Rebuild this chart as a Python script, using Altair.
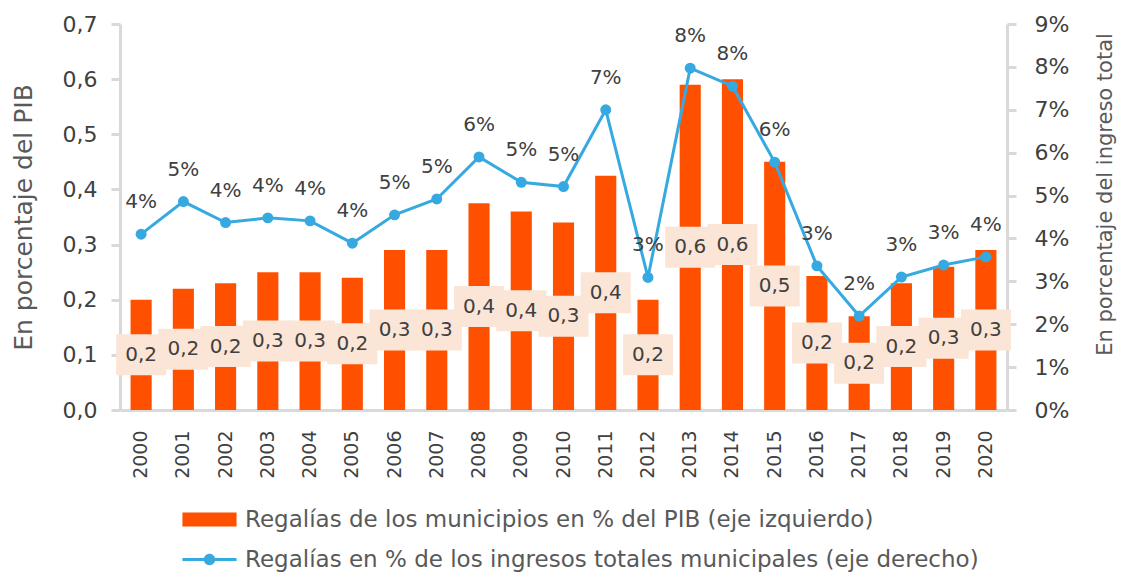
import altair as alt
import pandas as pd

years = ["2000", "2001", "2002", "2003", "2004", "2005", "2006", "2007", "2008", "2009",
         "2010", "2011", "2012", "2013", "2014", "2015", "2016", "2017", "2018", "2019", "2020"]
regalias_pib = [0.20, 0.22, 0.23, 0.25, 0.25, 0.24, 0.29, 0.29, 0.375, 0.36,
                0.34, 0.425, 0.20, 0.59, 0.60, 0.45, 0.243, 0.17, 0.23, 0.26, 0.29]
regalias_ingresos = [4.10, 4.86, 4.37, 4.48, 4.41, 3.89, 4.55, 4.92, 5.90, 5.31,
                     5.21, 7.00, 3.09, 7.97, 7.55, 5.78, 3.36, 2.19, 3.10, 3.38, 3.57]
series_names = ["Regalías de los municipios en % del PIB (eje izquierdo)",
                "Regalías en % de los ingresos totales municipales (eje derecho)"]
left_ticks = [0.0, 0.1, 0.2, 0.3, 0.4, 0.5, 0.6, 0.7]
right_ticks = [0, 1, 2, 3, 4, 5, 6, 7, 8, 9]

ORANGE = "#FF5000"
BLUE = "#36A9E1"
BOX = "#FBE5D6"
TXT = "#404040"
GREY = "#595959"
AXIS = "#D9D9D9"
FONT = "DejaVu Sans"

df = pd.DataFrame({"year": years, "pib": regalias_pib, "ing": regalias_ingresos})

base = alt.Chart(df)

x_axis = alt.Axis(labelAngle=270, labelFontSize=19, labelColor=TXT, ticks=False,
                  domainColor=AXIS, domainWidth=3, labelPadding=20, labelFont=FONT,
                  title=None)
x_enc = alt.X("year:N", title=None,
              scale=alt.Scale(paddingInner=0.5, paddingOuter=0.25), axis=x_axis)

left_axis = alt.Axis(title="En porcentaje del PIB", values=left_ticks,
                     labelExpr="replace(format(datum.value, '.1f'), '.', ',')",
                     labelFontSize=22, labelColor=TXT, labelPadding=14,
                     tickSize=9, tickWidth=3, tickColor=AXIS,
                     domainColor=AXIS, domainWidth=3, grid=False,
                     titleFontSize=25, titleColor=GREY, titleFontWeight="normal",
                     titlePadding=26, labelFont=FONT, titleFont=FONT)
left_scale = alt.Scale(domain=[0, 0.7], nice=False)

bars = base.mark_bar(color=ORANGE).encode(
    x=x_enc, y=alt.Y("pib:Q", scale=left_scale, axis=left_axis))

lab_base = base.transform_calculate(
    mid="datum.pib / 2",
    lbl="replace(format(datum.pib, '.1f'), '.', ',')")
y_mid = alt.Y("mid:Q", scale=left_scale, axis=left_axis, title="En porcentaje del PIB")

boxes = lab_base.mark_point(shape="M-1,-0.82H1V0.82H-1Z", size=2500, filled=True,
                            color=BOX, opacity=1).encode(x=x_enc, y=y_mid)
box_text = lab_base.mark_text(fontSize=20, color=TXT, font=FONT, baseline="middle").encode(
    x=x_enc, y=y_mid, text="lbl:N")

left = alt.layer(bars, boxes, box_text)

right_axis = alt.Axis(title="En porcentaje del ingreso total", orient="right",
                      values=right_ticks,
                      labelExpr="format(datum.value, 'd') + '%'",
                      labelFontSize=22, labelColor=TXT, labelPadding=18,
                      tickSize=9, tickWidth=3, tickColor=AXIS,
                      domainColor=AXIS, domainWidth=3, grid=False,
                      titleFontSize=21, titleColor=GREY, titleFontWeight="normal",
                      titleAngle=270, titlePadding=47, titleY=170,
                      labelFont=FONT, titleFont=FONT)
y_right = alt.Y("ing:Q", scale=alt.Scale(domain=[0, 9], nice=False), axis=right_axis,
                title="En porcentaje del ingreso total")

line = base.mark_line(color=BLUE, strokeWidth=3).encode(x=x_enc, y=y_right)
points = base.mark_point(filled=True, size=120, color=BLUE, opacity=1).encode(
    x=x_enc, y=y_right)
pct = base.transform_calculate(pl="format(round(datum.ing), 'd') + '%'").mark_text(
    fontSize=20, color=TXT, font=FONT, dy=-32, baseline="middle").encode(
    x=x_enc, y=y_right, text="pl:N")

right = alt.layer(line, points, pct)

legend_cfg = dict(title=None, orient="none", legendX=69, legendY=475,
                  direction="vertical", symbolSize=1681,
                  symbolStrokeWidth=0, symbolOpacity=1,
                  labelFontSize=23, labelColor=GREY, labelFont=FONT,
                  labelLimit=1000, labelOffset=15, rowPadding=7, padding=0)

legend_layer = base.transform_filter("false").mark_point(filled=True, opacity=1).encode(
    color=alt.Color("series:N",
                    scale=alt.Scale(domain=series_names, range=[ORANGE, BLUE]),
                    legend=alt.Legend(**legend_cfg)),
    shape=alt.Shape("series:N",
                    scale=alt.Scale(domain=series_names,
                                    range=["M-1.32,-0.34H1.32V0.34H-1.32Z",
                                           "M-1.32,-0.075H1.32V0.075H-1.32Z"
                                           "M0.28,0A0.28,0.28 0 1,1 -0.28,0A0.28,0.28 0 1,1 0.28,0Z"]),
                    legend=alt.Legend(**legend_cfg)),
)

chart = alt.layer(left, right, legend_layer).resolve_scale(y="independent").properties(
    width=887, height=386,
    autosize=alt.AutoSizeParams(type="none"),
    padding={"left": 112, "top": 16, "right": 112, "bottom": 162},
).configure(font=FONT, view=alt.ViewConfig(strokeWidth=0))

chart.save("out.html", embed_options={"renderer": "svg", "actions": False})
